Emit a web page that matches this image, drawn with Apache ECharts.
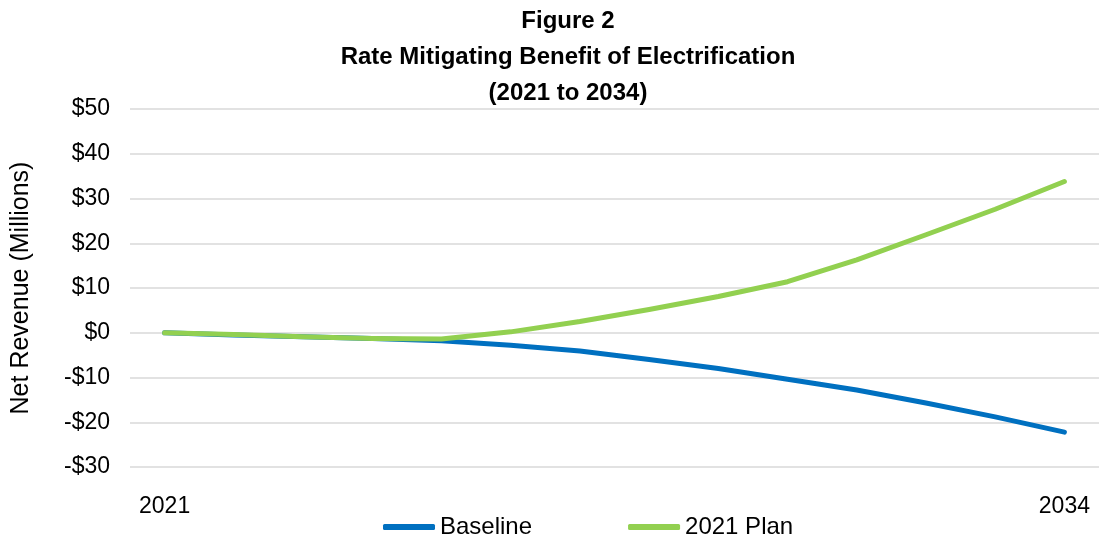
<!DOCTYPE html>
<html lang="en">
<head>
  <meta charset="UTF-8">
  <title>Figure 2</title>
  <style>
    body, html { margin: 0; padding: 0; background: #fff; }
    #main { width: 1099px; height: 546px; }
  </style>
</head>
<body>
  <div id="main"></div>
  <script src="https://cdn.jsdelivr.net/npm/echarts@6/dist/echarts.min.js"></script>
  <script>
    // data
    var years = ['2021', '2022', '2023', '2024', '2025', '2026', '2027',
                 '2028', '2029', '2030', '2031', '2032', '2033', '2034'];
    var baseline = [0, -0.5, -0.9, -1.3, -1.8, -2.8, -4.1, -6.0, -8.0, -10.4, -12.8, -15.7, -18.8, -22.2];
    var plan2021 = [0, -0.4, -0.9, -1.3, -1.4, 0.2, 2.5, 5.2, 8.1, 11.4, 16.3, 21.9, 27.6, 33.8];

    var font = 'Liberation Sans';
    var chart = echarts.init(document.getElementById('main'));

    var option = {
      animation: false,
      title: {
        text: 'Figure 2\nRate Mitigating Benefit of Electrification\n(2021 to 2034)',
        left: 563,
        top: -2,
        textAlign: 'center',
        textStyle: {
          fontFamily: font,
          fontWeight: 'bold',
          fontSize: 24,
          lineHeight: 36,
          color: '#000'
        }
      },
      legend: {
        data: ['Baseline', '2021 Plan'],
        left: 378,
        bottom: 2,
        icon: 'roundRect',
        itemWidth: 52,
        itemHeight: 6,
        itemGap: 96,
        selectedMode: false,
        textStyle: { fontFamily: font, fontSize: 24, color: '#000' }
      },
      color: ['#0070C0', '#92D050'],
      grid: { left: 130, right: 0, top: 109, bottom: 79, outerBoundsMode: 'none' },
      xAxis: {
        type: 'category',
        data: years,
        boundaryGap: true,
        axisLine: { show: false },
        axisTick: { show: false },
        axisLabel: {
          margin: 28,
          fontFamily: font,
          fontSize: 23,
          color: '#000',
          interval: function (i) { return i === 0 || i === years.length - 1; }
        }
      },
      yAxis: {
        type: 'value',
        min: -30,
        max: 50,
        interval: 10,
        name: 'Net Revenue (Millions)',
        nameLocation: 'middle',
        nameGap: 96,
        nameTextStyle: { fontFamily: font, fontSize: 25, color: '#000' },
        axisLine: { show: false },
        axisTick: { show: false },
        splitLine: { lineStyle: { color: '#d9d9d9', width: 1.5 } },
        axisLabel: {
          margin: 20,
          fontFamily: font,
          fontSize: 23,
          color: '#000',
          formatter: function (v) { return (v < 0 ? '-$' : '$') + Math.abs(v); }
        }
      },
      series: [
        {
          name: 'Baseline',
          type: 'line',
          data: baseline,
          showSymbol: false,
          lineStyle: { width: 5, cap: 'round', join: 'round' }
        },
        {
          name: '2021 Plan',
          type: 'line',
          data: plan2021,
          showSymbol: false,
          lineStyle: { width: 5, cap: 'round', join: 'round' }
        }
      ]
    };
    chart.setOption(option);
  </script>
</body>
</html>
